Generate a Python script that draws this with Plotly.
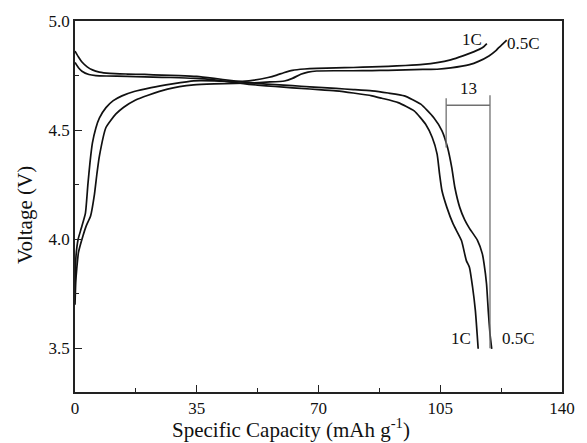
import plotly.graph_objects as go

# ---- data ----
dis05_x = [0, 1, 2, 3.5, 5, 7, 10, 15, 20, 25, 30, 35, 40, 45, 50, 55, 60, 65, 70, 75, 80, 85.4, 90,
           94.7, 99.4, 103.1, 105.5, 107.1, 108.3, 109.2, 110.6, 112, 113.4, 115.7, 117.1, 117.6,
           118.3, 118.8, 119.3, 119.8]
dis05_v = [4.862, 4.835, 4.812, 4.79, 4.776, 4.766, 4.760, 4.757, 4.755, 4.752, 4.750, 4.746, 4.737,
           4.727, 4.718, 4.711, 4.706, 4.701, 4.696, 4.691, 4.686, 4.680, 4.670, 4.657, 4.619, 4.558,
           4.497, 4.420, 4.329, 4.237, 4.146, 4.090, 4.050, 3.995, 3.933, 3.887, 3.796, 3.673, 3.567,
           3.498]

dis1_x = [0, 1, 2, 4, 6, 9, 15, 20, 25, 30, 35, 40, 45, 50, 55, 60, 65, 70, 75, 80, 85.4, 88.2, 92.9,
          97.5, 100.8, 102.7, 104.1, 104.8, 105.5, 106.9, 108.7, 111.1, 112.5, 113.4, 114.3, 115.1,
          115.6, 115.9]
dis1_v = [4.81, 4.786, 4.770, 4.755, 4.750, 4.748, 4.746, 4.744, 4.742, 4.740, 4.737, 4.730, 4.720,
          4.710, 4.703, 4.697, 4.691, 4.686, 4.680, 4.670, 4.657, 4.646, 4.626, 4.588, 4.527, 4.466,
          4.390, 4.299, 4.222, 4.146, 4.070, 3.994, 3.902, 3.871, 3.780, 3.673, 3.567, 3.498]

chg1_x = [0, 0.3, 0.9, 1.8, 3.0, 3.7, 4.3, 5.0, 6.0, 7.0, 8.9, 11, 13.5, 17, 21.9, 28, 34.1, 40, 46.2,
          50, 55.5, 58, 60, 62.5, 66, 69.5, 75, 80, 85.4, 90, 95, 100, 104.1, 108, 111.5, 114, 116.2,
          117.5, 118.4]
chg1_v = [3.80, 3.925, 4.0, 4.05, 4.12, 4.25, 4.35, 4.44, 4.51, 4.555, 4.603, 4.635, 4.657, 4.677,
          4.695, 4.712, 4.726, 4.726, 4.722, 4.726, 4.741, 4.752, 4.763, 4.774, 4.780, 4.783, 4.785,
          4.787, 4.790, 4.792, 4.796, 4.801, 4.809, 4.822, 4.840, 4.855, 4.870, 4.882, 4.896]

chg05_x = [0, 0.2, 0.5, 1.0, 2.3, 3.2, 4.5, 5.6, 6.3, 7.0, 8.9, 11.7, 14, 17.3, 21, 26.6, 34.1, 40, 46,
           50.9, 55, 60.2, 62.5, 64.9, 67, 69.5, 75, 80, 85.4, 90, 95, 100, 104.1, 108, 113.4, 116,
           119, 121, 121.8, 123, 124.1]
chg05_v = [3.70, 3.80, 3.864, 3.94, 4.016, 4.06, 4.108, 4.207, 4.300, 4.38, 4.512, 4.573, 4.605,
           4.637, 4.66, 4.688, 4.707, 4.712, 4.714, 4.716, 4.72, 4.725, 4.737, 4.756, 4.766, 4.771,
           4.772, 4.772, 4.773, 4.774, 4.776, 4.778, 4.779, 4.785, 4.80, 4.815, 4.84, 4.864, 4.878,
           4.895, 4.912]

# capacity-difference bracket (13 mAh/g)
br_left_x = [106.7, 106.7]
br_left_v = [4.646, 4.42]
br_right_x = [119.3, 119.3]
br_right_v = [4.66, 3.5]
br_h_x = [106.7, 119.3]
br_h_v = [4.614, 4.614]

x_ticks = [0, 35, 70, 105, 140]
y_ticks = [3.5, 4.0, 4.5, 5.0]

FONT = "Liberation Serif, Times New Roman, serif"
fig = go.Figure()

for xs, vs in [(dis05_x, dis05_v), (dis1_x, dis1_v), (chg1_x, chg1_v), (chg05_x, chg05_v)]:
    fig.add_trace(go.Scatter(x=xs, y=vs, mode="lines", line=dict(color="#111111", width=1.7,
                                                                   shape="spline", smoothing=0.5),
                             showlegend=False, hoverinfo="skip"))

for xs, vs in [(br_left_x, br_left_v), (br_right_x, br_right_v), (br_h_x, br_h_v)]:
    fig.add_trace(go.Scatter(x=xs, y=vs, mode="lines", line=dict(color="#707070", width=1.3),
                             showlegend=False, hoverinfo="skip"))

labels = [
    (114.0, 4.913, "1C"),
    (129.0, 4.896, "0.5C"),
    (111.1, 3.544, "1C"),
    (127.6, 3.544, "0.5C"),
    (113.0, 4.692, "13"),
]
annotations = [dict(x=x, y=y, text=t, showarrow=False, xref="x", yref="y",
                    font=dict(family=FONT, size=17, color="#111111"))
               for x, y, t in labels]
annotations.append(dict(x=0.443, y=-0.098, xref="paper", yref="paper",
                        text="Specific Capacity (mAh g<sup>-1</sup>)", showarrow=False,
                        xanchor="center", yanchor="middle",
                        font=dict(family=FONT, size=21, color="#111111")))
annotations.append(dict(x=-0.104, y=0.478, xref="paper", yref="paper",
                        text="Voltage (V)", showarrow=False, textangle=-90,
                        xanchor="center", yanchor="middle",
                        font=dict(family=FONT, size=21, color="#111111")))

axis_common = dict(showgrid=False, zeroline=False, showline=True, linecolor="#222222",
                   linewidth=1.5, mirror=True, ticks="inside", ticklen=7, tickwidth=1.3,
                   tickcolor="#222222",
                   tickfont=dict(family=FONT, size=17, color="#111111"))

fig.update_layout(
    width=587, height=443,
    margin=dict(l=75, r=12, t=20, b=51),
    paper_bgcolor="white", plot_bgcolor="white",
    xaxis=dict(range=[0, 140], tickmode="array", tickvals=x_ticks,
               ticktext=[str(v) for v in x_ticks],
               minor=dict(dtick=17.5, tick0=0, ticks="inside", ticklen=4, tickcolor="#222222",
                          tickwidth=1.3),
               **axis_common),
    yaxis=dict(range=[3.3, 5.0], tickmode="array", tickvals=y_ticks,
               ticktext=["%.1f" % v for v in y_ticks],
               minor=dict(dtick=0.25, tick0=3.5, ticks="inside", ticklen=4, tickcolor="#222222",
                          tickwidth=1.3),
               **axis_common),
    annotations=annotations,
)

fig.write_html("out.html")
